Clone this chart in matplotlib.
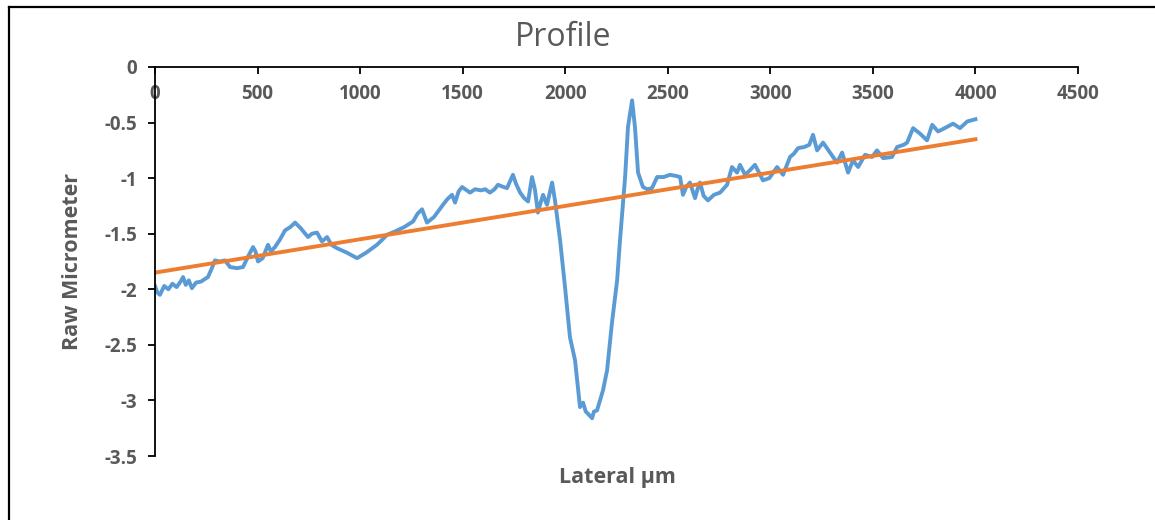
import numpy as np
import matplotlib
matplotlib.use('Agg')
from matplotlib import pyplot as plt
from matplotlib.lines import Line2D

# surface profile (lateral position in um, height in um)
lateral = [0, 12, 24, 45, 65, 85, 105, 125, 137, 150, 165, 180, 200, 225, 258, 275,
           292, 315, 341, 366, 400, 429, 455, 478, 490, 502, 525, 551, 565, 585, 610,
           634, 660, 683, 710, 746, 765, 790, 814, 839, 860, 887, 935, 985, 1030, 1082,
           1110, 1131, 1170, 1215, 1258, 1280, 1302, 1326, 1360, 1404, 1425, 1448, 1463,
           1480, 1497, 1536, 1560, 1590, 1610, 1633, 1655, 1672, 1700, 1716, 1745, 1760,
           1780, 1800, 1819, 1838, 1852, 1867, 1880, 1892, 1911, 1936, 1950, 1975, 1999,
           2023, 2048, 2072, 2087, 2100, 2111, 2131, 2140, 2155, 2184, 2204, 2228, 2253,
           2267, 2292, 2306, 2326, 2340, 2355, 2379, 2400, 2423, 2448, 2480, 2511, 2540,
           2560, 2574, 2590, 2608, 2633, 2645, 2657, 2675, 2696, 2725, 2755, 2789, 2813,
           2838, 2852, 2877, 2900, 2925, 2945, 2964, 2995, 3033, 3062, 3096, 3115, 3135,
           3165, 3190, 3208, 3228, 3257, 3291, 3325, 3350, 3379, 3403, 3428, 3462, 3496,
           3520, 3550, 3593, 3618, 3650, 3667, 3696, 3730, 3764, 3789, 3818, 3850, 3891,
           3925, 3960, 4000]
height = [-1.97, -2.03, -2.05, -1.97, -2.00, -1.95, -1.98, -1.93, -1.89, -1.96, -1.92,
          -1.99, -1.94, -1.93, -1.89, -1.82, -1.74, -1.75, -1.74, -1.80, -1.81, -1.80,
          -1.70, -1.62, -1.66, -1.75, -1.72, -1.60, -1.66, -1.62, -1.55, -1.47, -1.44,
          -1.40, -1.45, -1.53, -1.50, -1.49, -1.57, -1.53, -1.60, -1.63, -1.67, -1.72,
          -1.67, -1.60, -1.55, -1.51, -1.48, -1.44, -1.39, -1.32, -1.28, -1.40, -1.35,
          -1.24, -1.19, -1.15, -1.22, -1.12, -1.08, -1.13, -1.10, -1.11, -1.10, -1.13,
          -1.10, -1.06, -1.08, -1.09, -0.97, -1.05, -1.13, -1.18, -1.21, -0.99, -1.10,
          -1.31, -1.22, -1.15, -1.24, -1.04, -1.20, -1.56, -1.98, -2.43, -2.64, -3.06,
          -3.02, -3.10, -3.12, -3.16, -3.10, -3.09, -2.91, -2.73, -2.30, -1.92, -1.56,
          -0.99, -0.54, -0.30, -0.54, -0.95, -1.08, -1.10, -1.09, -0.99, -0.99, -0.97,
          -0.98, -0.99, -1.15, -1.08, -1.04, -1.18, -1.10, -1.04, -1.16, -1.20, -1.15,
          -1.13, -1.06, -0.90, -0.95, -0.88, -0.97, -0.93, -0.88, -0.95, -1.02, -1.00,
          -0.90, -0.97, -0.81, -0.78, -0.73, -0.72, -0.70, -0.61, -0.75, -0.68, -0.77,
          -0.86, -0.77, -0.95, -0.84, -0.90, -0.79, -0.81, -0.75, -0.82, -0.81, -0.72,
          -0.70, -0.68, -0.55, -0.60, -0.66, -0.52, -0.58, -0.55, -0.51, -0.55, -0.49,
          -0.47]

# linear trend end points
trend_x = [0, 4000]
trend_y = [-1.85, -0.65]

xticks = np.arange(0, 4501, 500)
yticks = [0, -0.5, -1, -1.5, -2, -2.5, -3, -3.5]

plt.rcParams['font.family'] = ['Open Sans', 'DejaVu Sans']
grey = '#595959'

fig = plt.figure(figsize=(11.55, 5.2), dpi=100)
ax = fig.add_axes([155/1155, 1 - 456/520, (1078 - 155)/1155, (456 - 67)/520])

ax.plot(lateral, height, color='#5B9BD5', lw=2.8, solid_joinstyle='round')
ax.plot(trend_x, trend_y, color='#ED7D31', lw=2.8)

ax.set_xlim(0, 4500)
ax.set_ylim(-3.5, 0)
ax.set_xticks(xticks)
ax.set_yticks(yticks)
ax.set_yticklabels(['0', '-0.5', '-1', '-1.5', '-2', '-2.5', '-3', '-3.5'])

ax.spines['bottom'].set_position(('data', 0))
ax.spines['top'].set_visible(False)
ax.spines['right'].set_visible(False)
for s in ('bottom', 'left'):
    ax.spines[s].set_linewidth(1.3)
    ax.spines[s].set_color('black')
ax.tick_params(axis='both', direction='out', length=5, width=1.3, color='black',
               labelcolor=grey, labelsize=13.5)
ax.tick_params(axis='x', pad=7)
ax.tick_params(axis='y', pad=8)
for lbl in ax.get_xticklabels() + ax.get_yticklabels():
    lbl.set_fontweight('bold')

fig.text(563/1155, 1 - 37/520, 'Profile', ha='center', va='center',
         fontsize=23, color=grey)
fig.text(72/1155, 1 - 262/520, 'Raw Micrometer', ha='center', va='center',
         rotation=90, fontsize=15.5, fontweight='bold', color=grey)
fig.text(617/1155, 1 - 478/520, 'Lateral µm', ha='center', va='center',
         fontsize=15.5, fontweight='bold', color=grey)

# chart frame
fig.add_artist(Line2D([9/1155, 9/1155], [0, 1 - 7/520], transform=fig.transFigure,
                      color='black', lw=1.6))
fig.add_artist(Line2D([9/1155, 1], [1 - 7/520, 1 - 7/520], transform=fig.transFigure,
                      color='black', lw=1.6))

fig.savefig('out.png', dpi=100)
